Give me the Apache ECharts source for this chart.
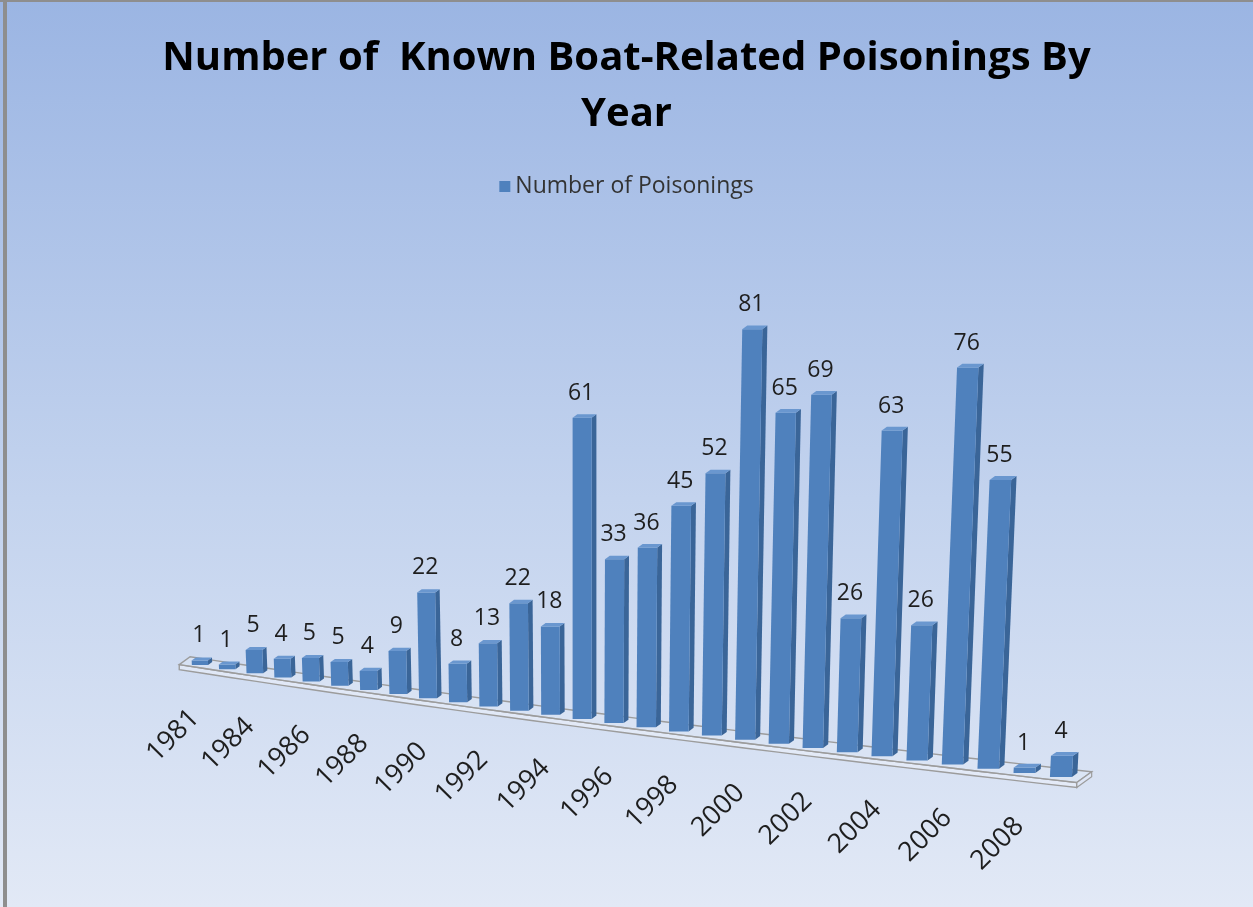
<!DOCTYPE html>
<html><head><meta charset="utf-8">
<script src="https://cdn.jsdelivr.net/npm/echarts@6/dist/echarts.min.js"></script>
<style>html,body{margin:0;padding:0;background:#fff}#c{width:1253px;height:907px}</style>
</head><body><div id="c"></div>
<script>
// ---- data ----
const years = ['1981','1983','1984','1985','1986','1987','1988','1989','1990','1991','1992','1993','1994','1995',
  '1996','1997','1998','1999','2000','2001','2002','2003','2004','2005','2006','2007','2008','2009'];
const poisonings = [1,1,5,4,5,5,4,9,22,8,13,22,18,61,33,36,45,52,81,65,69,26,63,26,76,55,1,4];
const seriesName = 'Number of Poisonings';
const titleText = 'Number of  Known Boat-Related Poisonings By\nYear';
const Y_MAX = 90;

// ---- perspective view (style / layout only) ----
const VIEW = { X0: 200, A: 27.08, B: 0.178, Y0: 665, S: 4.15, K0: 4.6, K1: 0.026, L: 0.0035 };
function slotWidth(t){ return VIEW.A + 2*VIEW.B*t; }
function depthVec(t){ const w = 0.6*slotWidth(t); return [0.25*w, -0.18*w]; }
function proj(t, hUnits, dx){
  const x = VIEW.X0 + VIEW.A*t + VIEW.B*t*t;
  const y = VIEW.Y0 + VIEW.S*t;
  const h = hUnits*(VIEW.K0 + VIEW.K1*t);
  const lean = VIEW.L*(t-13)*h;
  return [x + dx + lean, y - h];
}
function add(p, d, f){ return [p[0]+d[0]*f, p[1]+d[1]*f]; }

const FRONT='#4f81bd', SIDE='#3a6598', TOP='#6a97cf';

function renderBar(params, api){
  const cs = params.coordSys;
  const n = years.length;
  const base = api.coord([api.value(0), 0]);
  const top = api.coord([api.value(0), api.value(1)]);
  const t = (base[0]-cs.x)/cs.width*n - 0.5;
  const hUnits = (base[1]-top[1])/cs.height*Y_MAX;
  const w = 0.6*slotWidth(t);
  const D = depthVec(t);
  const lb = proj(t,0,-w/2), rb = proj(t,0,w/2);
  const lt = proj(t,hUnits,-w/2), rt = proj(t,hUnits,w/2);
  const children = [
    {type:'polygon', shape:{points:[rb, add(rb,D,1), add(rt,D,1), rt]}, style:{fill:SIDE}},
    {type:'polygon', shape:{points:[lb, rb, rt, lt]}, style:{fill:FRONT}},
    {type:'polygon', shape:{points:[lt, rt, add(rt,D,1), add(lt,D,1)]}, style:{fill:TOP}}
  ];
  const c = proj(t,hUnits,-1);
  children.push({type:'text', x:c[0], y:c[1]-13,
    style:{text:String(api.value(1)), align:'center', verticalAlign:'bottom',
      fontFamily:'Open Sans', fontSize:23, fill:'#1e1e1e'}});
  const idx = params.dataIndex;
  if (idx % 2 === 0){
    const b = proj(t,0,0);
    children.push({type:'text', x:b[0]-5, y:b[1]+49, rotation:Math.PI/4,
      style:{text:years[idx], align:'right', verticalAlign:'middle',
        fontFamily:'Open Sans', fontSize:27, fill:'#1e1e1e'}});
  }
  return {type:'group', children};
}

function renderFloor(params, api){
  const n = years.length;
  const t0 = -0.65, t1 = n - 0.45;
  const F = [], Bk = [];
  const steps = 30;
  for (let k=0;k<=steps;k++){
    const t = t0 + (t1-t0)*k/steps;
    const p = proj(t,0,0); const D = depthVec(t);
    F.push(add(p,D,-0.8)); Bk.push(add(p,D,1.9));
  }
  const topFace = F.concat(Bk.slice().reverse());
  const thick = F.map(p=>[p[0],p[1]+5]);
  const frontFace = F.concat(thick.slice().reverse());
  const endR = [Bk[steps], F[steps], thick[steps], [Bk[steps][0], Bk[steps][1]+5]];
  return {type:'group', children:[
    {type:'polygon', shape:{points:frontFace}, style:{fill:'rgba(235,240,250,0.6)', stroke:'#9c9c9c', lineWidth:1.4}},
    {type:'polygon', shape:{points:topFace}, style:{fill:'rgba(225,232,246,0.45)', stroke:'#9c9c9c', lineWidth:1.4}},
    {type:'polygon', shape:{points:endR}, style:{fill:'rgba(225,232,246,0.6)', stroke:'#9c9c9c', lineWidth:1.2}}
  ]};
}

const chart = echarts.init(document.getElementById('c'));
chart.setOption({
  animation:false,
  backgroundColor:{type:'linear', x:0, y:0, x2:0, y2:1,
    colorStops:[{offset:0,color:'#9bb5e3'},{offset:0.55,color:'#c3d3ee'},{offset:1,color:'#e2e9f6'}]},
  title:{text:titleText, left:'center', top:26,
    textStyle:{fontFamily:'Open Sans', fontWeight:'bold', fontSize:40, lineHeight:56, color:'#000'}},
  legend:{data:[seriesName], top:170, left:'center', icon:'rect', itemWidth:11, itemHeight:11, itemGap:7,
    textStyle:{fontFamily:'Open Sans', fontSize:23, color:'#333'}},
  grid:{left:100, right:100, top:250, bottom:150},
  xAxis:{type:'category', data:years, show:false},
  yAxis:{type:'value', min:0, max:Y_MAX, show:false},
  graphic:[
    {type:'rect', shape:{x:0,y:0,width:1253,height:2}, style:{fill:'#8e8e8e'}, z:100},
    {type:'rect', shape:{x:3,y:0,width:4,height:907}, style:{fill:'#8e8e8e'}, z:100}
  ],
  series:[
    {type:'custom', name:'floor', silent:true, z:1, renderItem:renderFloor, data:[[years[0],0]], encode:{x:0,y:1}},
    {type:'custom', name:seriesName, z:2, itemStyle:{color:FRONT}, renderItem:renderBar,
      data:poisonings.map((v,i)=>[years[i], v]), encode:{x:0,y:1}}
  ]
});
</script></body></html>
